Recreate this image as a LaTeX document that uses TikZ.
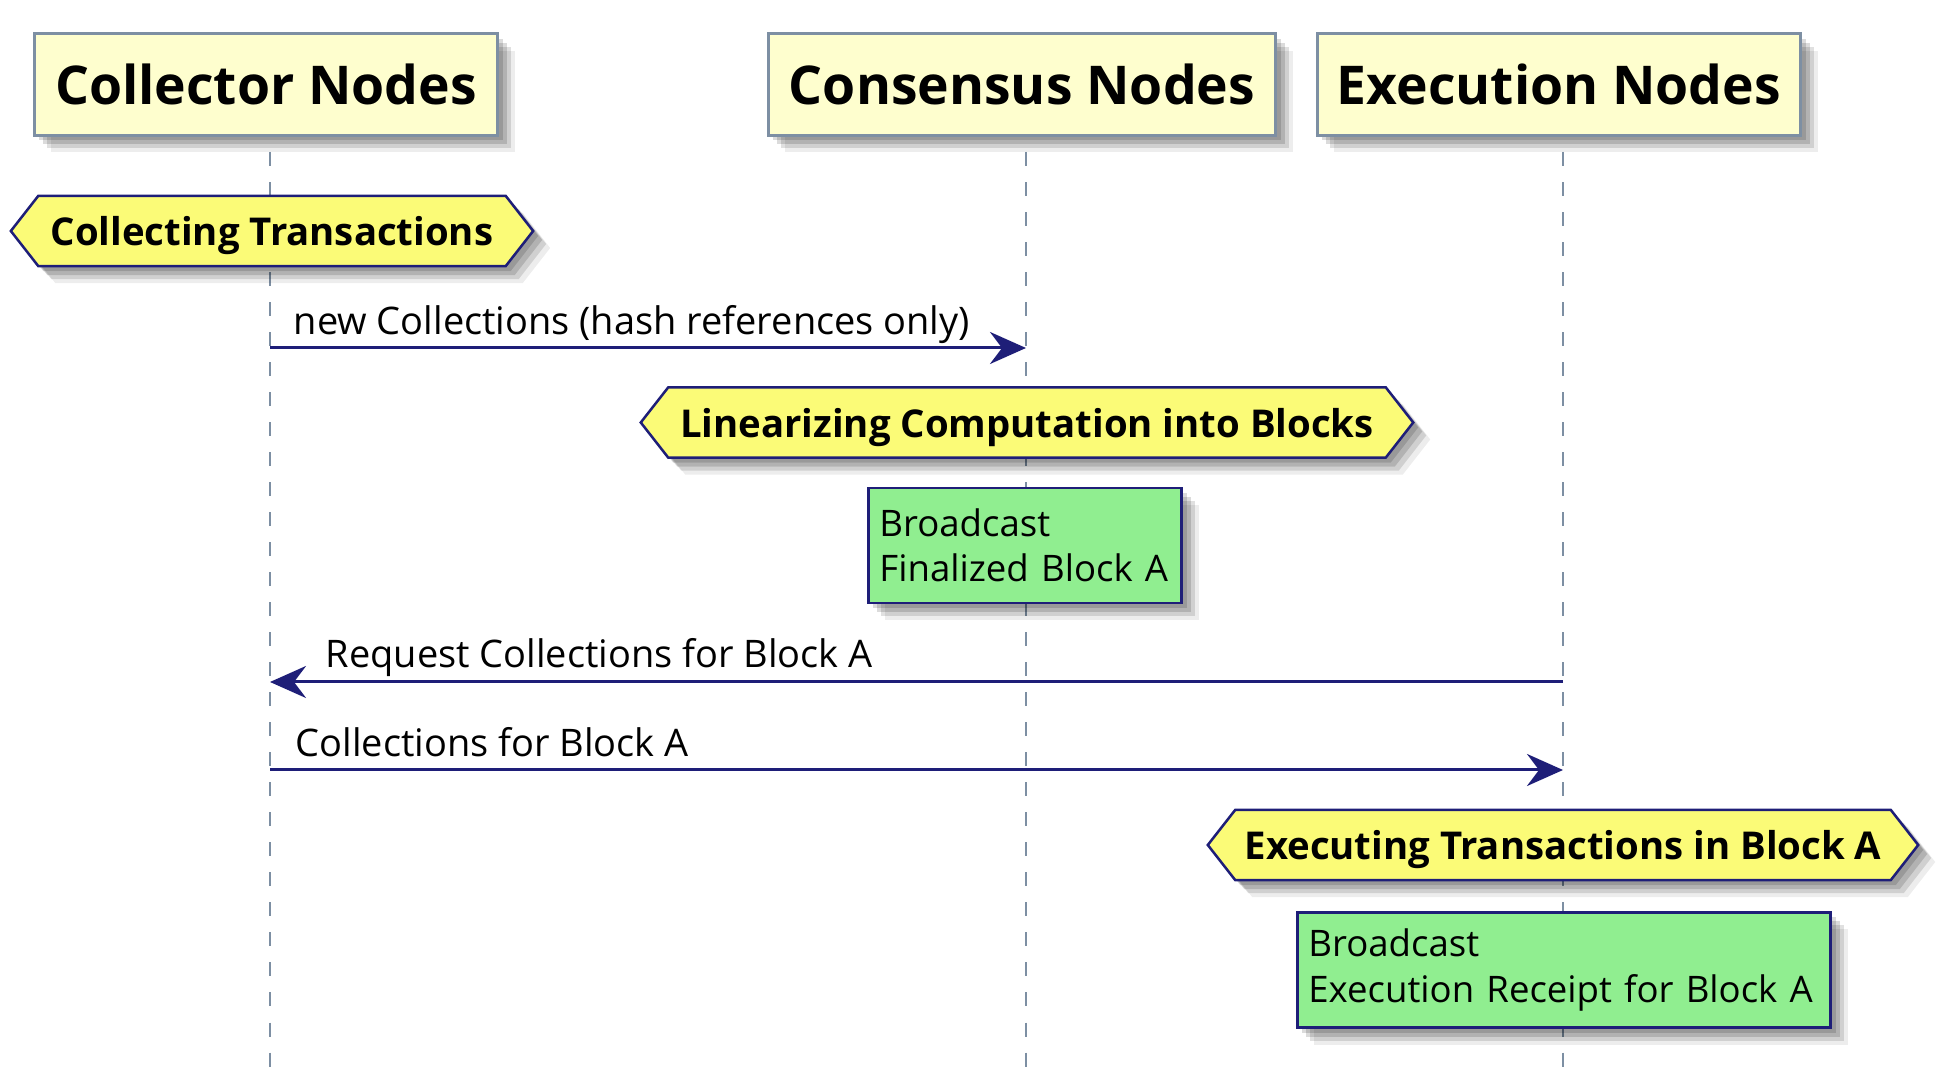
\documentclass[tikz,border=0pt]{standalone}
\usepackage{fontspec}
\setmainfont{Open Sans}
\usepackage{tikz}
\usetikzlibrary{positioning, shapes.symbols, shadows, arrows.meta}

\definecolor{partFill}{HTML}{FEFECE}
\definecolor{partLine}{HTML}{7D8FA3}
\definecolor{sepFill}{HTML}{FBFB77}
\definecolor{noteFill}{HTML}{90EE90}
\definecolor{navyLine}{HTML}{1E1E78}

\begin{document}
\begin{tikzpicture}[
    x = 0.01cm, y = -0.01cm,
    softShadow/.style = {
      drop shadow = {shadow xshift = 0.05cm, shadow yshift = -0.05cm, fill = black, opacity = 0.14},
      drop shadow = {shadow xshift = 0.09cm, shadow yshift = -0.09cm, fill = black, opacity = 0.14},
      drop shadow = {shadow xshift = 0.13cm, shadow yshift = -0.13cm, fill = black, opacity = 0.12},
      drop shadow = {shadow xshift = 0.17cm, shadow yshift = -0.17cm, fill = black, opacity = 0.07}},
    partNode/.style = {draw = partLine, fill = partFill, line width = 0.03cm, minimum height = 1.01cm,
      font = \fontsize{15.2}{18}\selectfont\bfseries, softShadow},
    sepNode/.style = {signal, signal to = west and east, signal pointer angle = 104, draw = navyLine,
      fill = sepFill, line width = 0.025cm, minimum height = 0.7cm, inner sep = 0pt, text depth = 0pt,
      font = \fontsize{10.9}{13}\selectfont\bfseries, softShadow},
    noteNode/.style = {rectangle, draw = navyLine, fill = noteFill, line width = 0.025cm, align = left,
      inner xsep = 0.11cm, minimum height = 1.15cm, font = \fontsize{10.4}{12.8}\selectfont, softShadow},
    lifeLine/.style = {partLine, line width = 0.025cm, dash pattern = on 0.14cm off 0.16cm},
    msgArrow/.style = {navyLine, line width = 0.03cm, -{Stealth[length = 0.36cm, width = 0.32cm, inset = 0.12cm]}},
    msgText/.style = {anchor = base west, inner sep = 0pt, font = \fontsize{10.8}{13}\selectfont}
    ]
      \useasboundingbox (0,0) rectangle (1948,1080);

      % participants
      \node[partNode, minimum width = 4.63cm] (collector) at (266,84.5) {Collector Nodes};
      \node[partNode, minimum width = 5.07cm] (consensus) at (1022,84.5) {Consensus Nodes};
      \node[partNode, minimum width = 4.83cm] (execution) at (1559,84.5) {Execution Nodes};

      \coordinate (collectorEnd) at (270,1080);
      \coordinate (consensusEnd) at (1026,1080);
      \coordinate (executionEnd) at (1563,1080);

      \draw[lifeLine] (collectorEnd |- 0,152) -- (collectorEnd);
      \draw[lifeLine] (consensusEnd |- 0,152) -- (consensusEnd);
      \draw[lifeLine] (executionEnd |- 0,152) -- (executionEnd);

      % dividers
      \node[sepNode, minimum width = 5.22cm] (collecting) at (272,231) {Collecting Transactions};
      \node[sepNode, minimum width = 7.72cm] (linearizing) at (1027,422.5) {Linearizing Computation into Blocks};
      \node[sepNode, minimum width = 7.1cm] (executing) at (1563,845) {Executing Transactions in Block A};

      % notes
      \node[noteNode, text width = 2.91cm] (finalized) at (1025,545.5) {Broadcast\\Finalized Block A};
      \node[noteNode, text width = 5.11cm] (receipt) at (1564,970) {Broadcast\\Execution Receipt for Block A};

      %% Messages
      \draw[msgArrow] (collectorEnd |- 0,348) -- (consensusEnd |- 0,348);
      \node[msgText] (newColl) at (293,335) {new Collections (hash references only)};

      \draw[msgArrow] (executionEnd |- 0,682) -- (collectorEnd |- 0,682);
      \node[msgText] (request) at (325,668) {Request Collections for Block A};

      \draw[msgArrow] (collectorEnd |- 0,770) -- (executionEnd |- 0,770);
      \node[msgText] (collFor) at (295,757) {Collections for Block A};
\end{tikzpicture}
\end{document}
